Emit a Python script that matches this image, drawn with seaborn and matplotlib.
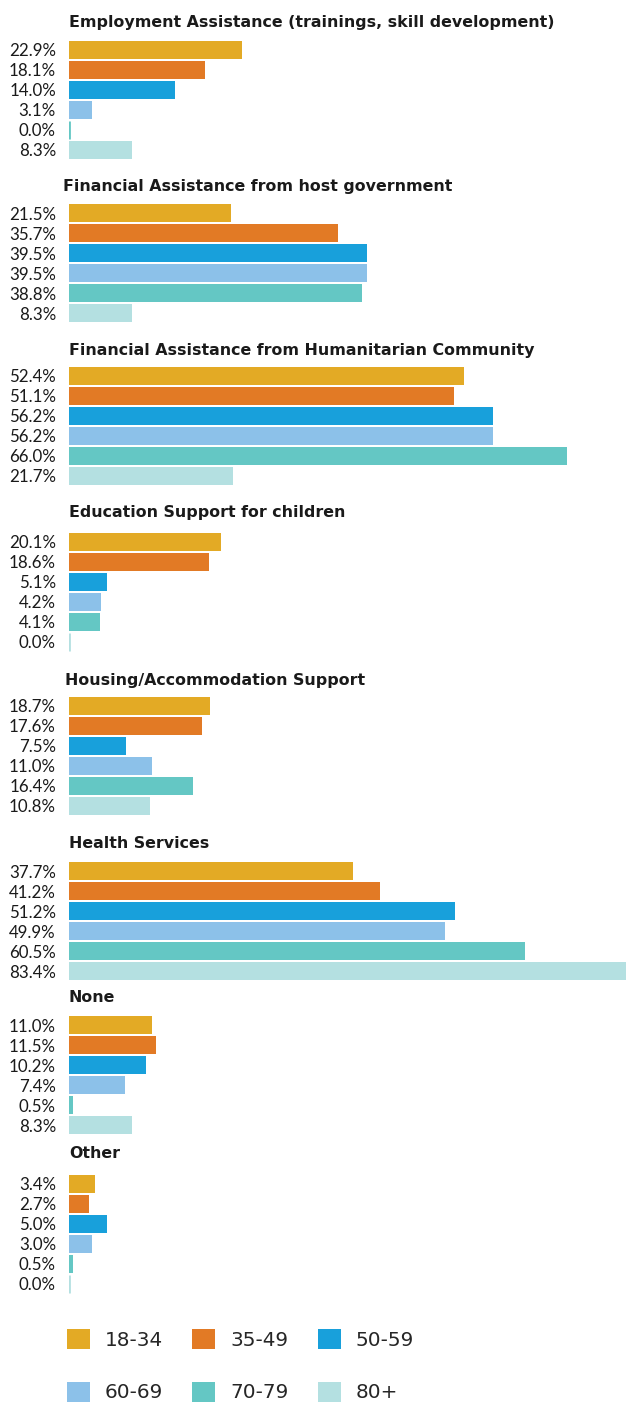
import matplotlib
matplotlib.use("Agg")
import matplotlib.pyplot as plt
from matplotlib.patches import Patch
import seaborn as sns
import pandas as pd

# Survey answers: share of respondents per age group for each type of support
ages = ["18-34", "35-49", "50-59", "60-69", "70-79", "80+"]
categories = [
    "Employment Assistance (trainings, skill development)",
    "Financial Assistance from host government",
    "Financial Assistance from Humanitarian Community",
    "Education Support for children",
    "Housing/Accommodation Support",
    "Health Services",
    "None",
    "Other",
]
employment = [22.9, 18.1, 14.0, 3.1, 0.0, 8.3]
host_government = [21.5, 35.7, 39.5, 39.5, 38.8, 8.3]
humanitarian = [52.4, 51.1, 56.2, 56.2, 66.0, 21.7]
education = [20.1, 18.6, 5.1, 4.2, 4.1, 0.0]
housing = [18.7, 17.6, 7.5, 11.0, 16.4, 10.8]
health = [37.7, 41.2, 51.2, 49.9, 60.5, 83.4]
none = [11.0, 11.5, 10.2, 7.4, 0.5, 8.3]
other = [3.4, 2.7, 5.0, 3.0, 0.5, 0.0]
series = [employment, host_government, humanitarian, education,
          housing, health, none, other]

colors = ["#E3AA25", "#E27A25", "#18A0DB", "#8CC1E9", "#64C7C4", "#B4E0E1"]
palette = dict(zip(ages, colors))

# layout in pixels
W, H = 626, 1403
left_px = 69
axes_tops = [40, 203, 366, 532, 696, 861, 1015, 1174]
title_y = [23, 186, 350, 513, 680, 843, 998, 1154]
title_x = [69, 63, 69, 69, 65, 69, 69, 69]
x_max = (W - left_px) / 7.54

sns.set_theme(style="white")
plt.rcParams["font.family"] = ["DejaVu Sans"]

fig = plt.figure(figsize=(W / 100, H / 100), dpi=100)
fig.patch.set_facecolor("white")

for i, (name, vals) in enumerate(zip(categories, series)):
    df = pd.DataFrame({"age": ages, "value": vals})
    ax = fig.add_axes([left_px / W, 1 - (axes_tops[i] + 120) / H,
                       (W - left_px) / W, 120 / H])
    sns.barplot(data=df, x="value", y="age", hue="age", palette=palette,
                order=ages, hue_order=ages, width=0.9, legend=False,
                saturation=1, ax=ax)
    for p in ax.patches:
        p.set_linewidth(0)
        if p.get_width() == 0:
            p.set_edgecolor(p.get_facecolor())
            p.set_linewidth(2.0)
    ax.set_xlim(0, x_max)
    ax.set_ylim(5.5, -0.5)
    ax.set_yticks(range(len(ages)))
    ax.set_yticklabels([f"{v:.1f}%" for v in vals],
                       family=["Lato", "DejaVu Sans"],
                       fontsize=12.2, color="#1a1a1a")
    ax.tick_params(axis="y", length=0, pad=9.4)
    ax.set_xticks([])
    ax.set_xlabel("")
    ax.set_ylabel("")
    for s in ax.spines.values():
        s.set_visible(False)
    ax.patch.set_alpha(0)
    fig.text(title_x[i] / W, 1 - title_y[i] / H, name, ha="left", va="center",
             fontsize=11.4, fontweight="semibold", color="#1a1a1a")

order = [0, 3, 1, 4, 2, 5]
handles = [Patch(facecolor=colors[k], edgecolor="none", label=ages[k]) for k in order]
fig.legend(handles=handles, ncol=3, loc="upper left",
           bbox_to_anchor=(67 / W, 1 - 1329 / H), frameon=False,
           fontsize=14.4, handlelength=1.15, handleheight=1.15,
           handletextpad=0.75, columnspacing=1.45, labelspacing=1.6,
           borderpad=0, borderaxespad=0)

fig.savefig("out.png", dpi=100, facecolor="white")
